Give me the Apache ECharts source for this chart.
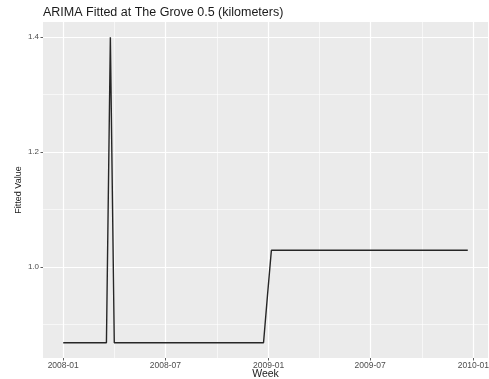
<!DOCTYPE html>
<html>
<head>
<meta charset="utf-8">
<script src="https://cdn.jsdelivr.net/npm/echarts@6/dist/echarts.min.js"></script>
<style>html,body{margin:0;padding:0;background:#fff;}#c{width:489px;height:379px;}</style>
</head>
<body>
<div id="c"></div>
<script>
// ---- data ----
var titleText = 'ARIMA Fitted at The Grove 0.5 (kilometers)';
var xName = 'Week';
var yName = 'Fitted Value';
var firstWeek = '2008-01-01';
var weekCount = 104;
var fittedValues = [
  0.868,0.868,0.868,0.868,0.868,0.868,0.868,0.868,0.868,0.868,
  0.868,0.868,1.400,0.868,0.868,0.868,0.868,0.868,0.868,0.868,
  0.868,0.868,0.868,0.868,0.868,0.868,0.868,0.868,0.868,0.868,
  0.868,0.868,0.868,0.868,0.868,0.868,0.868,0.868,0.868,0.868,
  0.868,0.868,0.868,0.868,0.868,0.868,0.868,0.868,0.868,0.868,
  0.868,0.868,0.950,1.029,1.029,1.029,1.029,1.029,1.029,1.029,
  1.029,1.029,1.029,1.029,1.029,1.029,1.029,1.029,1.029,1.029,
  1.029,1.029,1.029,1.029,1.029,1.029,1.029,1.029,1.029,1.029,
  1.029,1.029,1.029,1.029,1.029,1.029,1.029,1.029,1.029,1.029,
  1.029,1.029,1.029,1.029,1.029,1.029,1.029,1.029,1.029,1.029,
  1.029,1.029,1.029,1.029
];
var yMajorTicks = [1.0, 1.2, 1.4];
var yTickLabels = ['1.0', '1.2', '1.4'];
var xMajorTicks = ['2008-01-01', '2008-07-01', '2009-01-01', '2009-07-01', '2010-01-01'];
var xTickLabels = ['2008-01', '2008-07', '2009-01', '2009-07', '2010-01'];

// ---- build ----
var DAY = 86400000;
var t0 = Date.parse(firstWeek + 'T00:00:00Z');
var seriesData = [];
for (var i = 0; i < weekCount; i++) {
  seriesData.push([t0 + i * 7 * DAY, fittedValues[i]]);
}
var xs = seriesData.map(function (d) { return d[0]; });
var xMinD = Math.min.apply(null, xs), xMaxD = Math.max.apply(null, xs);
var xPad = (xMaxD - xMinD) * 0.05;
var yMinD = Math.min.apply(null, fittedValues), yMaxD = Math.max.apply(null, fittedValues);
var yPad = (yMaxD - yMinD) * 0.05;
var xMin = xMinD - xPad, xMax = xMaxD + xPad;
var yMin = yMinD - yPad, yMax = yMaxD + yPad;

var xMajorTs = xMajorTicks.map(function (s) { return Date.parse(s + 'T00:00:00Z'); });
var xMinorTs = [];
for (var k = 0; k < xMajorTs.length - 1; k++) xMinorTs.push((xMajorTs[k] + xMajorTs[k + 1]) / 2);
var yMinor = [];
for (var k = 0; k < yMajorTicks.length - 1; k++) yMinor.push((yMajorTicks[k] + yMajorTicks[k + 1]) / 2);
yMinor.push(yMajorTicks[0] - 0.1);

var font = 'Liberation Sans';
var chart = echarts.init(document.getElementById('c'), null, {renderer: 'canvas'});

function vline(x, w) { return {xAxis: x, lineStyle: {color: '#ffffff', width: w, type: 'solid'}}; }
function hline(y, w) { return {yAxis: y, lineStyle: {color: '#ffffff', width: w, type: 'solid'}}; }
var gridLines = [];
xMinorTs.forEach(function (x) { if (x > xMin && x < xMax) gridLines.push(vline(x, 0.6)); });
yMinor.forEach(function (y) { if (y > yMin && y < yMax) gridLines.push(hline(y, 0.6)); });
xMajorTs.forEach(function (x) { if (x > xMin && x < xMax) gridLines.push(vline(x, 1.2)); });
yMajorTicks.forEach(function (y) { gridLines.push(hline(y, 1.2)); });

chart.setOption({
  animation: false,
  backgroundColor: '#ffffff',
  title: {
    text: titleText, left: 38, top: 1,
    textStyle: {fontFamily: font, fontSize: 12.5, fontWeight: 'normal', color: '#1a1a1a'}
  },
  grid: {left: 43, right: 1, top: 22, bottom: 21, show: true, backgroundColor: '#ebebeb', borderWidth: 0,
         outerBoundsMode: 'none', containLabel: false},
  xAxis: {
    type: 'value', min: xMin, max: xMax,
    name: xName, nameLocation: 'middle', nameGap: 10.5, nameMoveOverlap: false,
    nameTextStyle: {fontFamily: font, fontSize: 10.5, color: '#1a1a1a'},
    axisLine: {show: false},
    axisTick: {show: true, customValues: xMajorTs, length: 2.5, lineStyle: {color: '#333333', width: 0.8}},
    axisLabel: {
      customValues: xMajorTs, margin: 3, hideOverlap: false, showMinLabel: true, showMaxLabel: true,
      fontFamily: font, fontSize: 8.5, color: '#4d4d4d',
      formatter: function (v) {
        for (var j = 0; j < xMajorTs.length; j++) if (Math.abs(v - xMajorTs[j]) < 1000) return xTickLabels[j];
        return '';
      }
    },
    splitLine: {show: false}
  },
  yAxis: {
    type: 'value', min: yMin, max: yMax,
    name: yName, nameLocation: 'middle', nameGap: 19.5, nameRotate: 90, nameMoveOverlap: false,
    nameTextStyle: {fontFamily: font, fontSize: 9, color: '#1a1a1a'},
    axisLine: {show: false},
    axisTick: {show: true, customValues: yMajorTicks, length: 2.5, lineStyle: {color: '#333333', width: 0.8}},
    axisLabel: {
      customValues: yMajorTicks, margin: 4,
      fontFamily: font, fontSize: 8, color: '#4d4d4d',
      formatter: function (v) {
        for (var j = 0; j < yMajorTicks.length; j++) if (Math.abs(v - yMajorTicks[j]) < 1e-9) return yTickLabels[j];
        return '';
      }
    },
    splitLine: {show: false}
  },
  series: [{
    type: 'line', data: seriesData, showSymbol: false,
    lineStyle: {color: '#262626', width: 1.4},
    markLine: {silent: true, symbol: 'none', label: {show: false}, data: gridLines, z: 1},
    z: 3
  }]
});
</script>
</body>
</html>
